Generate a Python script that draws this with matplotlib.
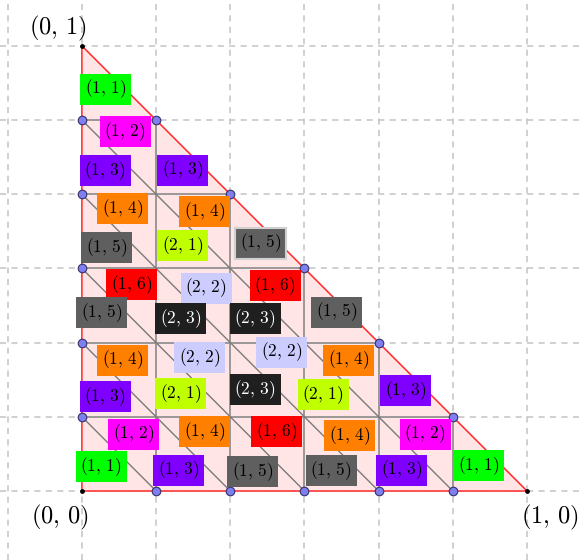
import matplotlib
matplotlib.use("Agg")
import matplotlib.pyplot as plt
from matplotlib.patches import Rectangle
import numpy as np

plt.rcParams['mathtext.fontset'] = 'cm'

N = 6  # subdivisions

# label texts (pairs) and positions in data coordinates
label_pairs = [
    (1, 1), (1, 2), (1, 3), (1, 3), (1, 4), (1, 4), (1, 5), (2, 1), (1, 5),
    (1, 6), (2, 2), (1, 6), (1, 5), (2, 3), (2, 3), (1, 5), (1, 4), (2, 2),
    (2, 2), (1, 4), (1, 3), (2, 1), (2, 3), (2, 1), (1, 3), (1, 2), (1, 4),
    (1, 6), (1, 4), (1, 2), (1, 1), (1, 3), (1, 5), (1, 5), (1, 3), (1, 1),
]
label_x = [0.054, 0.097, 0.052, 0.227, 0.092, 0.276, 0.056, 0.227, 0.402,
           0.112, 0.279, 0.434, 0.045, 0.222, 0.389, 0.573, 0.092, 0.265,
           0.449, 0.600, 0.052, 0.222, 0.389, 0.542, 0.728, 0.117, 0.276,
           0.438, 0.602, 0.771, 0.043, 0.218, 0.384, 0.560, 0.719, 0.892]
label_y = [0.903, 0.807, 0.719, 0.721, 0.634, 0.627, 0.546, 0.551, 0.557,
           0.463, 0.456, 0.461, 0.400, 0.387, 0.387, 0.402, 0.294, 0.299,
           0.312, 0.294, 0.213, 0.218, 0.227, 0.216, 0.225, 0.128, 0.133,
           0.133, 0.124, 0.128, 0.054, 0.047, 0.043, 0.045, 0.047, 0.058]

pair_colors = {
    (1, 1): '#00ff00', (1, 2): '#ff00ff', (1, 3): '#7f00ff',
    (1, 4): '#ff7f00', (1, 5): '#5f5f5f', (1, 6): '#ff0000',
    (2, 1): '#bfff00', (2, 2): '#ccccff', (2, 3): '#1f1f1f',
}
pair_text = {(2, 3): 'white'}

corner_x = [0, 0, 1]
corner_y = [1, 0, 0]
corner_text = [r'$(0,\,1)$', r'$(0,\,0)$', r'$(1,\,0)$']

fig = plt.figure(figsize=(5.8, 5.6), dpi=100)
ax = fig.add_axes([0, 0, 1, 1])
ax.set_xlim(-0.184, 1.119)
ax.set_ylim(-0.155, 1.103)
ax.axis('off')

# dashed background grid
h = 1.0 / N
for k in range(-2, N + 3):
    ax.axvline(k * h, color='#c4c4c4', lw=1.1, ls=(0, (4, 3.5)), zorder=0)
    ax.axhline(k * h, color='#c4c4c4', lw=1.1, ls=(0, (4, 3.5)), zorder=0)

# triangle fill
ax.fill([0, 1, 0], [0, 0, 1], color='#ffe5e5', zorder=1)

# interior grid lines
for k in range(1, N):
    t = k * h
    ax.plot([0, 1 - t], [t, t], color='#8a8a8a', lw=1.2, zorder=2)
    ax.plot([t, t], [0, 1 - t], color='#8a8a8a', lw=1.2, zorder=2)
    # diagonals x + y = t
    ax.plot([0, t], [t, 0], color='#7a7a7a', lw=1.0, zorder=2)

# triangle edges
ax.plot([0, 1, 0, 0], [0, 0, 1, 0], color='#ff2a2a', lw=1.1, zorder=3)

# points
ks = np.arange(1, N) * h
pt = dict(s=38, c='#7f7fef', edgecolors='#33336b', linewidths=0.8, zorder=4)
ax.scatter(np.zeros_like(ks), ks, **pt)
ax.scatter(ks, 1 - ks, **pt)
ax.scatter(ks, np.zeros_like(ks), **pt)
ax.scatter(corner_x, corner_y, s=6, c='black', zorder=4)

# labels: fixed-size boxes (51x31 px)
bw, bh = 51 / 445, 31 / 445
for (p, x, y) in zip(label_pairs, label_x, label_y):
    ec = '#d0d0d0' if (p == (1, 5) and abs(x - 0.402) < 1e-6) else 'none'
    ax.add_patch(Rectangle((x - bw / 2, y - bh / 2), bw, bh, fc=pair_colors[p],
                           ec=ec, lw=1.5, zorder=5))
    ax.text(x, y, r'$(%d,\,%d)$' % p, ha='center', va='center', fontsize=12.5,
            color=pair_text.get(p, 'black'), zorder=6)

# corner labels
ax.text(corner_x[0] - 0.055, corner_y[0] + 0.038, corner_text[0], ha='center', va='center', fontsize=17.5)
ax.text(corner_x[1] - 0.05, corner_y[1] - 0.06, corner_text[1], ha='center', va='center', fontsize=17.5)
ax.text(corner_x[2] + 0.05, corner_y[2] - 0.06, corner_text[2], ha='center', va='center', fontsize=17.5)

fig.savefig('out.png', dpi=100)
